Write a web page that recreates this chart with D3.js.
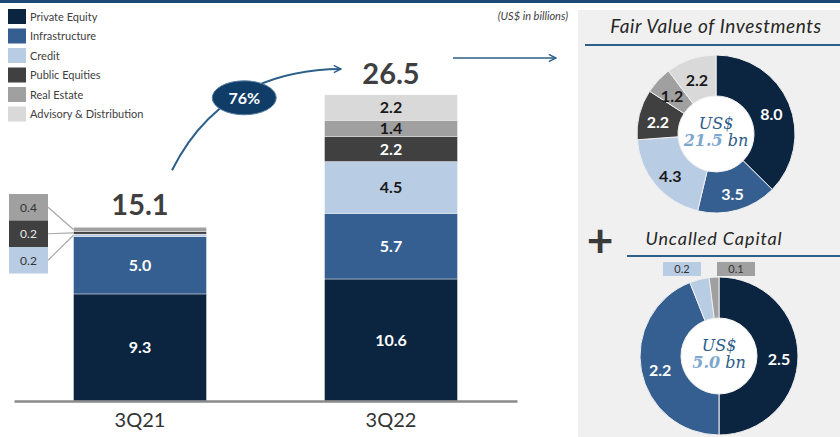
<!DOCTYPE html>
<html><head><meta charset="utf-8">
<script src="https://cdn.jsdelivr.net/npm/d3@7/dist/d3.min.js"></script>
<style>
html,body{margin:0;padding:0;background:#fff;}
svg{display:block;font-family:Lato,"Open Sans",sans-serif;}
</style></head>
<body><svg id="c" width="840" height="437"></svg>
<script>
// ---- data ----
const categories = ["3Q21", "3Q22"];
const seriesNames = ["Private Equity", "Infrastructure", "Credit", "Public Equities", "Real Estate", "Advisory & Distribution"];
const seriesColors = ["#0b2540", "#365f91", "#b8cce4", "#404040", "#a0a0a0", "#d9d9d9"];
const values3Q21 = [9.3, 5.0, 0.2, 0.2, 0.4, 0];
const values3Q22 = [10.6, 5.7, 4.5, 2.2, 1.4, 2.2];
const totals = [15.1, 26.5];
const growthLabel = "76%";
const fairValue = [8.0, 3.5, 4.3, 2.2, 1.2, 2.2];
const fairValueTotal = "21.5";
const uncalled = [2.5, 2.2, 0.2, 0, 0.1, 0];
const uncalledTotal = "5.0";

const svg = d3.select("#c");
const darkLabel = [false, false, true, false, true, true];

// top rule
svg.append("rect").attr("x", 0).attr("y", 0).attr("width", 840).attr("height", 3).attr("fill", "#1d4a74");

// right panel background
svg.append("rect").attr("x", 578).attr("y", 10).attr("width", 262).attr("height", 427).attr("fill", "#f0f0f0");

// ---- legend ----
const lg = svg.append("g").attr("transform", "translate(8,9)");
seriesNames.forEach((n, i) => {
  const g = lg.append("g").attr("transform", `translate(0,${i * 19.5})`);
  g.append("rect").attr("width", 18).attr("height", 15).attr("fill", seriesColors[i]);
  g.append("text").attr("x", 22).attr("y", 11.5).attr("font-size", 11).attr("fill", "#404040").text(n);
});

svg.append("text").attr("x", 568).attr("y", 20).attr("text-anchor", "end")
  .attr("font-size", 11).attr("font-style", "italic").attr("fill", "#404040").text("(US$ in billions)");

// ---- stacked bars ----
const rows = categories.map((c, ci) => {
  const o = { cat: c };
  const vals = ci === 0 ? values3Q21 : values3Q22;
  seriesNames.forEach((s, i) => o[s] = vals[i]);
  return o;
});
const stack = d3.stack().keys(seriesNames)(rows);
const x = d3.scaleBand().domain(categories).range([14, 517]).paddingInner(0.47).paddingOuter(0.237);
const y = d3.scaleLinear().domain([0, 26.5]).range([401, 96]);

const bars = svg.append("g");
stack.forEach((layer, li) => {
  layer.forEach((d, ci) => {
    const h = y(d[0]) - y(d[1]);
    if (h <= 0) return;
    bars.append("rect").attr("x", x(categories[ci])).attr("y", y(d[1]))
      .attr("width", x.bandwidth()).attr("height", h).attr("fill", seriesColors[li])
      .attr("stroke", "#ffffff").attr("stroke-width", 0.4);
    const v = d[1] - d[0];
    if (v >= 1) {
      bars.append("text").attr("x", x(categories[ci]) + x.bandwidth() / 2)
        .attr("y", (y(d[0]) + y(d[1])) / 2).attr("dy", "0.36em")
        .attr("text-anchor", "middle").attr("font-size", 16).attr("font-weight", "bold")
        .attr("fill", darkLabel[li] ? "#1a1a1a" : "#ffffff").text(d3.format(".1f")(v));
    }
  });
});

// axis
const axis = svg.append("g").attr("transform", "translate(0,401)")
  .call(d3.axisBottom(x).tickSize(0).tickPadding(12));
axis.select(".domain").attr("stroke", "#8a8a8a").attr("stroke-width", 2.5);
axis.selectAll("text").attr("font-size", 20).attr("fill", "#333").attr("font-family", "Lato,sans-serif");

// totals
categories.forEach((c, i) => {
  svg.append("text").attr("x", x(c) + x.bandwidth() / 2).attr("y", y(totals[i]) - 12)
    .attr("text-anchor", "middle").attr("font-size", 29).attr("font-weight", "bold")
    .attr("fill", "#3f3f3f").text(totals[i].toFixed(1));
});

// callouts for the thin 3Q21 segments
const small = [4, 3, 2];
const bx = 9, bw = 39, bh = 26.5, by0 = 194;
small.forEach((si, k) => {
  const seg = stack[si][0];
  const segMid = (y(seg[0]) + y(seg[1])) / 2;
  const top = by0 + k * bh;
  svg.append("line").attr("x1", bx + bw).attr("y1", top + bh / 2)
    .attr("x2", x(categories[0])).attr("y2", segMid)
    .attr("stroke", "#a8a8a8").attr("stroke-width", 1.2);
  svg.append("rect").attr("x", bx).attr("y", top).attr("width", bw).attr("height", bh)
    .attr("fill", seriesColors[si]);
  svg.append("text").attr("x", bx + bw / 2).attr("y", top + bh / 2).attr("dy", "0.36em")
    .attr("text-anchor", "middle").attr("font-size", 12)
    .attr("fill", si === 3 ? "#e6e6e6" : "#333").text(values3Q21[si].toFixed(1));
});

// growth arrow
const defs = svg.append("defs");
defs.append("marker").attr("id", "ah").attr("viewBox", "0 0 10 10").attr("refX", 9).attr("refY", 5)
  .attr("markerWidth", 9).attr("markerHeight", 9).attr("orient", "auto").attr("markerUnits", "userSpaceOnUse")
  .append("path").attr("d", "M1,1 L9,5 L1,9").attr("fill", "none").attr("stroke", "#2c5f8a").attr("stroke-width", 1.6);

const p0 = [x(categories[0]) + x.bandwidth() / 2 + 32, y(totals[0]) - 57];
const p2 = [x(categories[1]) + x.bandwidth() / 2 - 50, y(totals[1]) - 27];
const p1 = [222, 70];
const curve = d3.path();
curve.moveTo(p0[0], p0[1]);
curve.quadraticCurveTo(p1[0], p1[1], p2[0], p2[1]);
svg.append("path").attr("d", curve.toString()).attr("fill", "none")
  .attr("stroke", "#2c5f8a").attr("stroke-width", 2).attr("marker-end", "url(#ah)");
const em = [0.25 * p0[0] + 0.5 * p1[0] + 0.25 * p2[0] + 5, 0.25 * p0[1] + 0.5 * p1[1] + 0.25 * p2[1] + 3];
svg.append("ellipse").attr("cx", em[0]).attr("cy", em[1]).attr("rx", 32).attr("ry", 17)
  .attr("fill", "#0f3d68").attr("stroke", "#5c7fa3").attr("stroke-width", 1);
svg.append("text").attr("x", em[0]).attr("y", em[1]).attr("dy", "0.36em").attr("text-anchor", "middle")
  .attr("font-size", 16).attr("font-weight", "bold").attr("fill", "#fff").text(growthLabel);

// arrow to panel
svg.append("line").attr("x1", 453).attr("y1", 58).attr("x2", 556).attr("y2", 58)
  .attr("stroke", "#2c5f8a").attr("stroke-width", 1.6).attr("marker-end", "url(#ah)");

// ---- right panel ----
svg.append("text").attr("x", 716).attr("y", 33).attr("text-anchor", "middle")
  .attr("font-size", 19).attr("font-style", "italic").attr("letter-spacing", 0.6).attr("fill", "#262626").text("Fair Value of Investments");
svg.append("line").attr("x1", 585).attr("x2", 840).attr("y1", 45).attr("y2", 45)
  .attr("stroke", "#2c5f8a").attr("stroke-width", 2);

svg.append("text").attr("x", 600).attr("y", 240).attr("dy", "0.36em").attr("text-anchor", "middle")
  .attr("font-size", 46).attr("font-weight", "bold").attr("fill", "#3a3a3a").text("+");
svg.append("text").attr("x", 714).attr("y", 245).attr("text-anchor", "middle")
  .attr("font-size", 18).attr("font-style", "italic").attr("letter-spacing", 0.9).attr("fill", "#262626").text("Uncalled Capital");
svg.append("line").attr("x1", 627).attr("x2", 840).attr("y1", 256).attr("y2", 256)
  .attr("stroke", "#2c5f8a").attr("stroke-width", 2);

const pie = d3.pie().sort(null).value(d => d.v);
const arc = d3.arc().innerRadius(38).outerRadius(79);
const labelArc = d3.arc().innerRadius(60).outerRadius(60);

function donut(cx, cy, vals, total) {
  const g = svg.append("g").attr("transform", `translate(${cx},${cy})`);
  const data = pie(vals.map((v, i) => ({ v, i })));
  g.selectAll("path").data(data.filter(d => d.data.v > 0)).join("path")
    .attr("d", arc).attr("fill", d => seriesColors[d.data.i])
    .attr("stroke", "#f0f0f0").attr("stroke-width", 1);
  data.filter(d => d.data.v >= 1).forEach(d => {
    const c = labelArc.centroid(d);
    g.append("text").attr("x", c[0]).attr("y", c[1] + 3).attr("dy", "0.36em").attr("text-anchor", "middle")
      .attr("font-size", 16).attr("font-weight", "bold")
      .attr("fill", darkLabel[d.data.i] ? "#1a1a1a" : "#ffffff").text(d.data.v.toFixed(1));
  });
  g.append("circle").attr("r", 37.5).attr("fill", "#ffffff");
  g.append("text").attr("y", -11).attr("dy", "0.36em").attr("text-anchor", "middle")
    .attr("font-family", "'DejaVu Serif',serif").attr("font-style", "italic").attr("font-size", 16)
    .attr("fill", "#2e5d8a").text("US$");
  const t = g.append("text").attr("y", 6).attr("dy", "0.36em").attr("text-anchor", "middle")
    .attr("font-family", "'DejaVu Serif',serif").attr("font-style", "italic").attr("font-size", 16);
  t.append("tspan").attr("font-weight", "bold").attr("fill", "#7ea7cf").text(total);
  t.append("tspan").attr("fill", "#2e5d8a").text(" bn");
  return { g, data };
}

donut(716, 134, fairValue, fairValueTotal);
const d2 = donut(719, 356, uncalled, uncalledTotal);

// small labels for tiny uncalled slices
const smallBoxes = d2.data.filter(d => d.data.v > 0 && d.data.v < 1);
const offsets = [-56, -2];
smallBoxes.forEach((d, k) => {
  const g = d2.g;
  const bx0 = offsets[k], by = -94;
  g.append("rect").attr("x", bx0).attr("y", by).attr("width", 38).attr("height", 14)
    .attr("fill", seriesColors[d.data.i]);
  g.append("text").attr("x", bx0 + 19).attr("y", by + 7).attr("dy", "0.36em").attr("text-anchor", "middle")
    .attr("font-size", 11).attr("fill", "#333").text(d.data.v.toFixed(1));
});
</script></body></html>
